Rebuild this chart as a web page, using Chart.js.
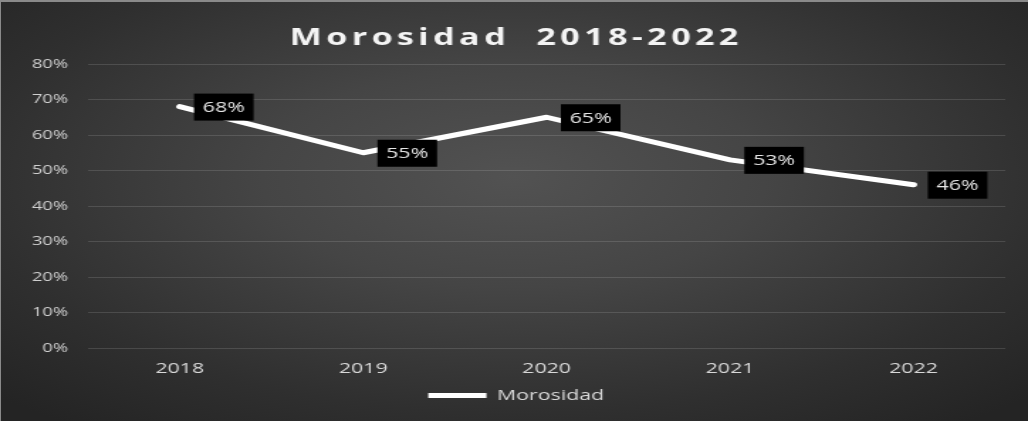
<!DOCTYPE html>
<html>
<head>
<meta charset="utf-8">
<script src="https://cdn.jsdelivr.net/npm/chart.js@4/dist/chart.umd.min.js"></script>
<style>
  html, body { margin: 0; padding: 0; background: #1e1e1e; overflow: hidden; }
  #wrap {
    position: relative; width: 1028px; height: 421px;
    background: radial-gradient(ellipse 70% 75% at 50% 42%, #525252 0%, #454545 35%, #2f2f2f 75%, #242424 100%);
    box-shadow: inset 1px 2px 0 #8a8a8a;
  }
  #c { display: block; width: 1028px !important; height: 421px !important; }
</style>
</head>
<body>
<div id="wrap"><canvas id="c" width="724" height="421" style="width:1028px;height:421px"></canvas></div>
<script>
const chartTitle = 'Morosidad  2018-2022';
const seriesName = 'Morosidad';
const categories = ['2018', '2019', '2020', '2021', '2022'];
const morosidad = [68, 55, 65, 53, 46];
const yTicks = [0, 10, 20, 30, 40, 50, 60, 70, 80];

const titlePlugin = {
  id: 'customTitle',
  afterDraw(chart) {
    const ctx = chart.ctx;
    const target = 316;
    ctx.save();
    ctx.font = 'bold 24px "Open Sans"';
    ctx.letterSpacing = '0px';
    const w = ctx.measureText(chartTitle).width;
    const n = chartTitle.length;
    const ls = Math.max(0, (target - w) / (n - 1));
    ctx.letterSpacing = ls + 'px';
    ctx.fillStyle = '#f4f4f4';
    ctx.textAlign = 'left';
    ctx.textBaseline = 'alphabetic';
    ctx.fillText(chartTitle, chart.width / 2 - target / 2, 45);
    ctx.restore();
  }
};

const labelPlugin = {
  id: 'boxLabels',
  afterDatasetsDraw(chart) {
    const ctx = chart.ctx;
    const meta = chart.getDatasetMeta(0);
    ctx.save();
    ctx.font = '15px "Open Sans"';
    ctx.textAlign = 'center';
    ctx.textBaseline = 'middle';
    meta.data.forEach((pt, i) => {
      const txt = chart.data.datasets[0].data[i] + '%';
      const bx = pt.x + 10, bw = 42, bh = 27;
      ctx.fillStyle = '#000000';
      ctx.fillRect(bx, pt.y - bh / 2 + 0.5, bw, bh);
      ctx.fillStyle = '#e6e6e6';
      ctx.fillText(txt, bx + bw / 2, pt.y + 1);
    });
    ctx.restore();
  }
};

new Chart(document.getElementById('c'), {
  type: 'line',
  data: {
    labels: categories,
    datasets: [{
      label: seriesName,
      data: morosidad,
      borderColor: '#ffffff',
      backgroundColor: '#ffffff',
      borderWidth: 5,
      borderCapStyle: 'round',
      borderJoinStyle: 'round',
      pointRadius: 0,
      pointHoverRadius: 0,
      tension: 0,
      fill: false
    }]
  },
  options: {
    responsive: false,
    animation: false,
    events: [],
    layout: { padding: { top: 64, right: 16, left: 19, bottom: 8 } },
    plugins: {
      title: { display: false },
      tooltip: { enabled: false },
      legend: {
        display: true,
        position: 'bottom',
        labels: {
          color: '#d9d9d9',
          font: { family: '"Open Sans"', size: 15 },
          usePointStyle: true,
          pointStyleWidth: 41,
          pointStyle: 'line',
          padding: 8
        }
      }
    },
    scales: {
      x: {
        offset: true,
        grid: { display: false, drawTicks: false },
        border: { display: false },
        ticks: {
          color: '#d9d9d9',
          font: { family: '"Open Sans"', size: 15 },
          padding: 12
        },
        afterFit(s) { s.height = 32; }
      },
      y: {
        min: 0,
        max: 80,
        afterBuildTicks(s) { s.ticks = yTicks.map(v => ({ value: v })); },
        grid: { color: 'rgba(255,255,255,0.13)', lineWidth: 1, drawTicks: false },
        border: { display: false },
        ticks: {
          color: '#d0d0d0',
          font: { family: '"Open Sans"', size: 13 },
          padding: 14,
          callback: v => v + '%'
        },
        afterFit(s) { s.width = 43; }
      }
    }
  },
  plugins: [titlePlugin, labelPlugin]
});
</script>
</body>
</html>
